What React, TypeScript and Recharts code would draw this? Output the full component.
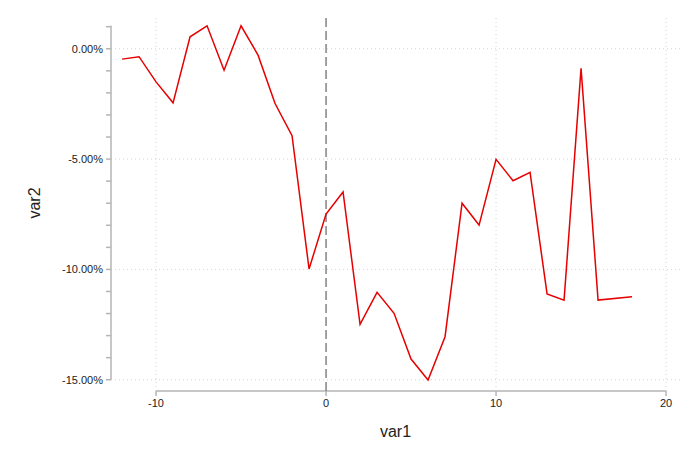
import React from 'react';
import { LineChart, Line, XAxis, YAxis, ReferenceLine } from 'recharts';

const xValues = [-12, -11, -10, -9, -8, -7, -6, -5, -4, -3, -2, -1, 0, 1, 2, 3, 4, 5, 6, 7, 8, 9, 10, 11, 12, 13, 14, 15, 16, 18];
const yValues = [-0.47, -0.36, -1.5, -2.45, 0.54, 1.04, -0.97, 1.04, -0.29, -2.48, -3.94, -9.98, -7.49, -6.49, -12.49, -11.04, -11.99, -14.06, -15.01, -13.05, -7.0, -7.99, -5.01, -5.98, -5.6, -11.11, -11.39, -0.89, -11.39, -11.24];
const xTicks = [-10, 0, 10, 20];
const yTicks = [-15, -14, -13, -12, -11, -10, -9, -8, -7, -6, -5, -4, -3, -2, -1, 0, 1];
const yGrid = [0, -5, -10, -15];
const xGrid = [-10, 10, 20];

const data = xValues.map((x, i) => ({ var1: x, var2: yValues[i] }));

const X_MIN = -12.65;
const X_MAX = 20.82;
const Y_MIN = -15.51;
const Y_MAX = 1.53;

const font = '"Liberation Sans", Arial, Helvetica, sans-serif';
const axisGray = '#b5b5b5';
const gridGray = '#d4d4d4';

const YLabel = (props: any) => {
  const vb = props.viewBox || { x: 0, y: 15, width: 111, height: 376 };
  const cx = 34;
  const cy = vb.y + vb.height / 2;
  return (
    <text
      x={cx}
      y={cy}
      transform={`rotate(-90, ${cx}, ${cy})`}
      textAnchor="middle"
      dominantBaseline="central"
      fontSize={16}
      fontFamily={font}
      fill="#222"
    >
      var2
    </text>
  );
};

export default function App() {
  return (
    <div style={{ position: 'absolute', left: 0, top: 0, background: '#fff' }}>
      <LineChart
        width={693}
        height={461}
        data={data}
        margin={{ top: 15, right: 13, bottom: 0, left: 0 }}
      >
        <XAxis
          dataKey="var1"
          type="number"
          domain={[X_MIN, X_MAX]}
          allowDataOverflow
          ticks={xTicks}
          interval={0}
          axisLine={false}
          tickLine={{ stroke: axisGray, strokeWidth: 1.5 }}
          tickSize={5}
          tickMargin={3}
          height={70}
          tick={{ fill: '#222', fontSize: 11, fontFamily: font }}
          label={{ value: 'var1', position: 'insideBottom', offset: 24, fill: '#222', fontSize: 16, fontFamily: font }}
        />
        <YAxis
          type="number"
          domain={[Y_MIN, Y_MAX]}
          allowDataOverflow
          ticks={yTicks}
          interval={0}
          axisLine={false}
          tickLine={{ stroke: axisGray, strokeWidth: 1.5 }}
          tickSize={5}
          tickMargin={3}
          width={111}
          tickFormatter={(v: number) => (v % 5 === 0 ? `${v.toFixed(2)}%` : '')}
          tick={{ fill: '#222', fontSize: 11, fontFamily: font }}
          label={<YLabel />}
        />
        {yGrid.map((y) => (
          <ReferenceLine key={`gy${y}`} y={y} stroke={gridGray} strokeDasharray="1 3" strokeWidth={1} />
        ))}
        {xGrid.map((x) => (
          <ReferenceLine key={`gx${x}`} x={x} stroke={gridGray} strokeDasharray="1 3" strokeWidth={1} />
        ))}
        <ReferenceLine
          segment={[{ x: -10, y: Y_MIN }, { x: 20, y: Y_MIN }]}
          stroke={axisGray}
          strokeWidth={1.5}
        />
        <ReferenceLine
          segment={[{ x: X_MIN, y: -15 }, { x: X_MIN, y: 1.04 }]}
          stroke={axisGray}
          strokeWidth={1.5}
        />
        <ReferenceLine x={0} stroke="#707070" strokeDasharray="9 4" strokeWidth={1.3} />
        <Line
          dataKey="var2"
          stroke="#e60000"
          strokeWidth={1.5}
          dot={false}
          isAnimationActive={false}
        />
      </LineChart>
    </div>
  );
}
